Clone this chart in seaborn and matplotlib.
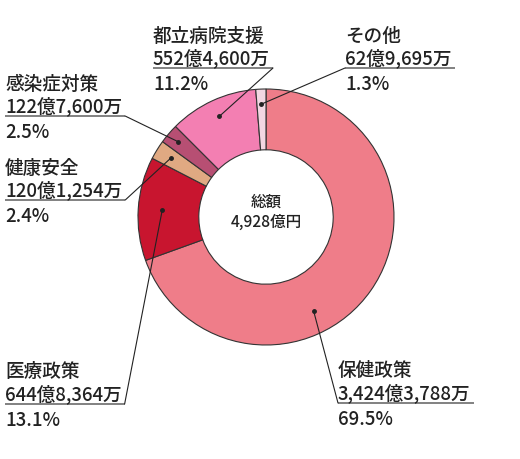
import numpy as np
import matplotlib
matplotlib.use("Agg")
import matplotlib.pyplot as plt
import seaborn as sns

# data (億円), clockwise from 12 o'clock
names = ["保健政策", "医療政策", "健康安全", "感染症対策", "都立病院支援", "その他"]
amounts = [3424.3788, 644.8364, 120.1254, 122.76, 552.46, 62.9695]
amount_labels = ["3,424億3,788万", "644億8,364万", "120億1,254万", "122億7,600万", "552億4,600万", "62億9,695万"]
pct_labels = ["69.5%", "13.1%", "2.4%", "2.5%", "11.2%", "1.3%"]
total_label = "4,928億円"
colors = ["#EF7D89", "#C8152F", "#E0A982", "#B74F73", "#F37FB2", "#F2D6E2"]

sns.set_style("white")
plt.rcParams['font.family'] = ['Noto Sans CJK JP', 'DejaVu Sans']

W, H = 520, 460
fig = plt.figure(figsize=(W / 100, H / 100), dpi=100)

cx, cy, R = 266, 218, 128
# pie axes (normal y orientation)
pax = fig.add_axes([0, 0, 1, 1])
wedges, _ = pax.pie(amounts, colors=colors, startangle=90, counterclock=False,
                    center=(cx, H - cy), radius=R,
                    wedgeprops=dict(width=R * 0.475, edgecolor="#333333", linewidth=0.8))
pax.set_xlim(0, W)
pax.set_ylim(0, H)
pax.axis("off")

# overlay axes in pixel coords (y down) for labels
ax = fig.add_axes([0, 0, 1, 1])
ax.set_xlim(0, W)
ax.set_ylim(H, 0)
ax.axis("off")

txt = dict(ha="left", va="center", fontsize=13.4, color="#222222", fontweight="medium")
ax.text(cx, 202, "総額", ha="center", va="center", fontsize=11.2, color="#222222", fontweight="medium")
ax.text(cx, 222, total_label, ha="center", va="center", fontsize=11.2, color="#222222", fontweight="medium")

# label layout: text left x, underline y, which end the leader uses,
# angle offset and radius of the dot inside the wedge
layout = [
    (338, 404, "left", -28, 105),
    (5, 405, "right", 0, 104),
    (5, 201, "right", 0, 112),
    (5, 117, "right", 0, 116),
    (153, 69, "right", 0, 111),
    (345, 69, "left", 0, 113),
]

fig.canvas.draw()
renderer = fig.canvas.get_renderer()
inv = ax.transData.inverted()

for w, name, amt, pct, (tx, uy, side, dang, rr) in zip(wedges, names, amount_labels, pct_labels, layout):
    ax.text(tx, uy - 33, name, **txt)
    t2 = ax.text(tx, uy - 11, amt, **txt)
    ax.text(tx, uy + 16, pct, **txt)
    bb = t2.get_window_extent(renderer)
    x1, _ = inv.transform((bb.x1, bb.y0))
    x1 += 3
    ax.plot([tx, x1], [uy, uy], color="#777777", lw=1.3, solid_capstyle="butt")
    ang = np.deg2rad((w.theta1 + w.theta2) / 2 + dang)
    dx = cx + rr * np.cos(ang)
    dy = cy - rr * np.sin(ang)
    ex = x1 if side == "right" else tx
    ax.plot([ex, dx], [uy, dy], color="#222222", lw=0.8)
    ax.plot(dx, dy, "o", color="#222222", ms=2.5)

fig.savefig("out.png", dpi=100)
